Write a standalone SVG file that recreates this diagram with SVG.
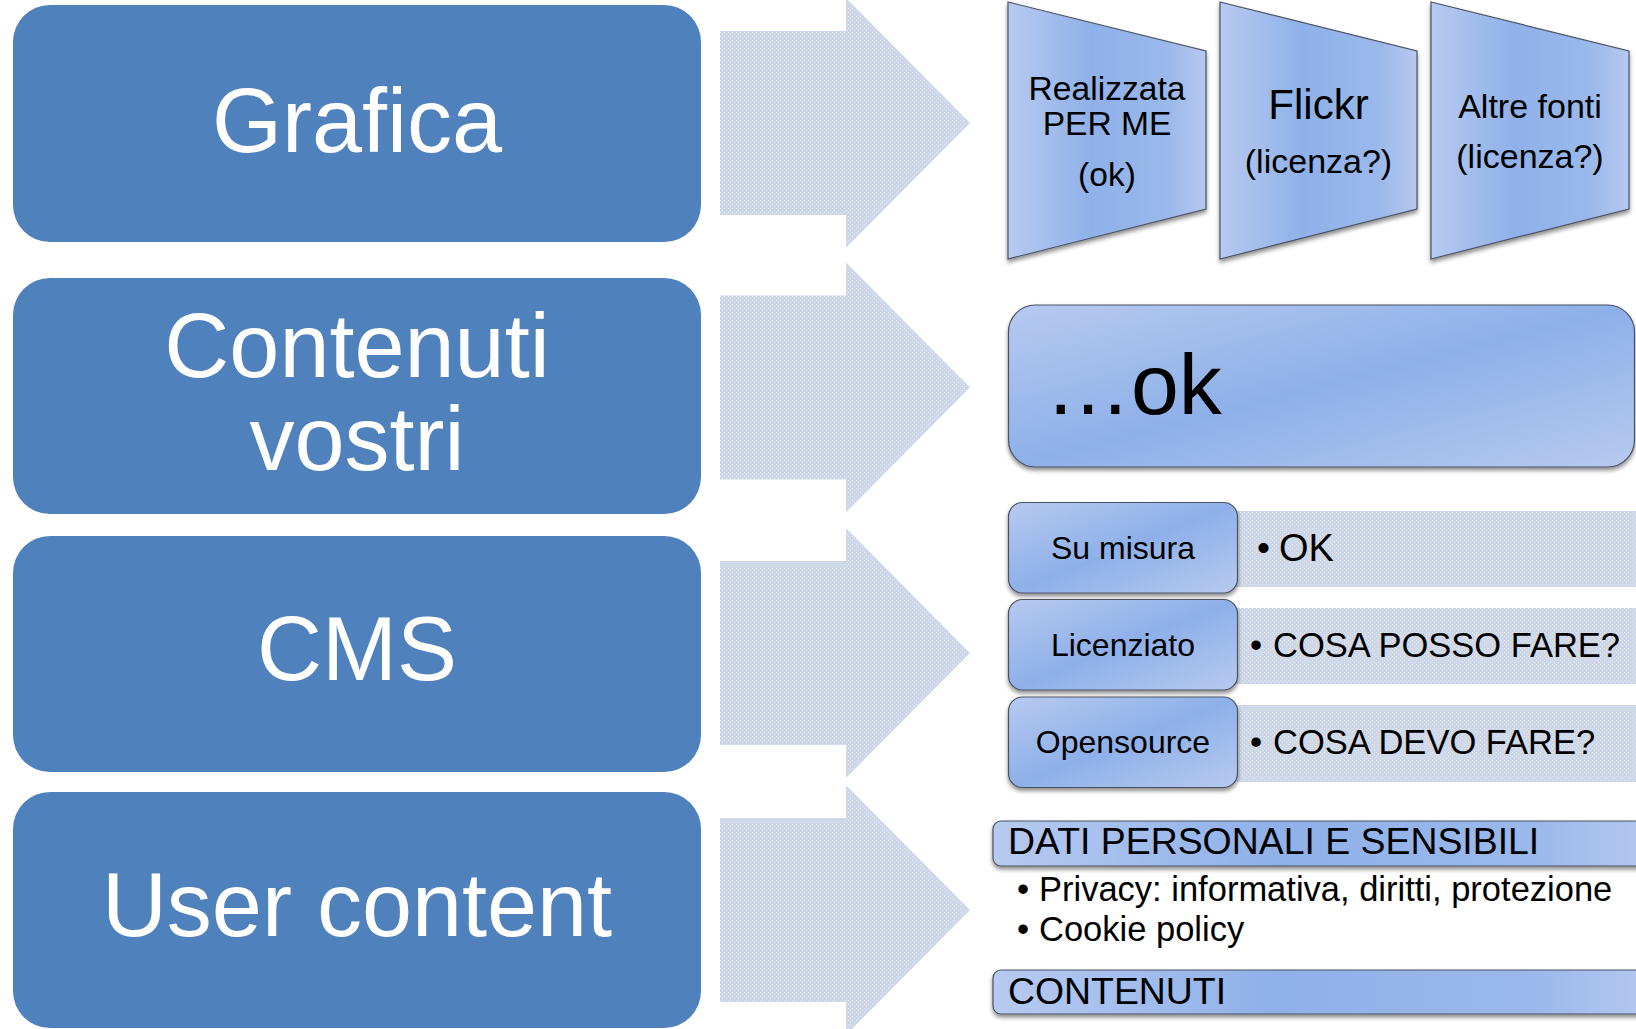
<svg xmlns="http://www.w3.org/2000/svg" width="1636" height="1029" viewBox="0 0 1636 1029">
  <defs>
    <style>
      .lbox { fill: #4f81bd; }
      .ltxt { fill: #ffffff; font-family: "Liberation Sans", Arial, sans-serif; font-size: 90px; text-anchor: middle; }
      .txt { fill: #000000; font-family: "Liberation Sans", Arial, sans-serif; }
      .mid { text-anchor: middle; }
      .blue { stroke: #4a5262; stroke-width: 1.2; }
      .tex { fill: url(#dots); }
    </style>
    <pattern id="dots" width="4" height="4" patternUnits="userSpaceOnUse">
      <rect width="4" height="4" fill="#ced7e7"/>
      <rect x="0" y="0" width="1" height="1" fill="#e3e8f1"/>
      <rect x="2" y="2" width="1" height="1" fill="#e3e8f1"/>
    </pattern>
    <linearGradient id="gradH" x1="0" y1="0" x2="1" y2="0">
      <stop offset="0" stop-color="#b7caf0"/>
      <stop offset="0.42" stop-color="#8fb1e9"/>
      <stop offset="0.8" stop-color="#9ab8eb"/>
      <stop offset="1" stop-color="#b6c9f0"/>
    </linearGradient>
    <linearGradient id="gradD" x1="0" y1="0" x2="1" y2="1">
      <stop offset="0" stop-color="#b7caf0"/>
      <stop offset="0.5" stop-color="#8eb0e9"/>
      <stop offset="1" stop-color="#b7caf0"/>
    </linearGradient>
    <filter id="shadow" x="-10%" y="-10%" width="120%" height="130%">
      <feDropShadow dx="0" dy="3" stdDeviation="2" flood-color="#000000" flood-opacity="0.45"/>
    </filter>
  </defs>

  <rect width="1636" height="1029" fill="#ffffff"/>

  <!-- connectors: block arrows -->
  <g id="connectors">
    <polygon class="tex" points="720,31 846,31 846,-2 970,123 846,248 846,215 720,215"/>
    <polygon class="tex" points="720,295.5 846,295.5 846,262.5 970,387.5 846,512.5 846,479.5 720,479.5"/>
    <polygon class="tex" points="720,561 846,561 846,528 970,653 846,778 846,745 720,745"/>
    <polygon class="tex" points="720,818 846,818 846,785 970,910 846,1035 846,1002 720,1002"/>
  </g>

  <!-- left column -->
  <g id="grafica">
    <rect class="lbox" x="13" y="5" width="688" height="237" rx="37" ry="37"/>
    <text class="ltxt" x="357" y="152">Grafica</text>
  </g>
  <g id="contenuti-vostri">
    <rect class="lbox" x="13" y="278" width="688" height="236" rx="37" ry="37"/>
    <text class="ltxt" x="357" y="377">Contenuti</text>
    <text class="ltxt" x="357" y="470">vostri</text>
  </g>
  <g id="cms">
    <rect class="lbox" x="13" y="536" width="688" height="236" rx="37" ry="37"/>
    <text class="ltxt" x="357" y="680">CMS</text>
  </g>
  <g id="user-content">
    <rect class="lbox" x="13" y="792" width="688" height="236" rx="37" ry="37"/>
    <text class="ltxt" x="357" y="936">User content</text>
  </g>

  <!-- row 1: trapezoids -->
  <g id="realizzata">
    <polygon points="1008,2 1206,51 1206,209 1008,259" fill="url(#gradH)" class="blue" filter="url(#shadow)"/>
    <text class="txt mid" x="1107" y="100" font-size="33.6">Realizzata</text>
    <text class="txt mid" x="1107" y="135" font-size="33.6">PER ME</text>
    <text class="txt mid" x="1107" y="186" font-size="33.6">(ok)</text>
  </g>
  <g id="flickr">
    <polygon points="1220,2 1417,51 1417,209 1220,259" fill="url(#gradH)" class="blue" filter="url(#shadow)"/>
    <text class="txt mid" x="1318.5" y="119" font-size="42">Flickr</text>
    <text class="txt mid" x="1318.5" y="173" font-size="34">(licenza?)</text>
  </g>
  <g id="altre-fonti">
    <polygon points="1431,2 1629,51 1629,209 1431,259" fill="url(#gradH)" class="blue" filter="url(#shadow)"/>
    <text class="txt mid" x="1530" y="118" font-size="34">Altre fonti</text>
    <text class="txt mid" x="1530" y="168" font-size="34">(licenza?)</text>
  </g>

  <!-- row 2 -->
  <g id="ok">
    <rect x="1008.5" y="305" width="626" height="162" rx="27" ry="27" fill="url(#gradD)" class="blue" filter="url(#shadow)"/>
    <text class="txt" x="1045" y="414" font-size="86">…ok</text>
  </g>

  <!-- row 3 -->
  <g id="su-misura">
    <rect class="tex" x="1236" y="511" width="410" height="76"/>
    <rect x="1008.5" y="502.5" width="229" height="90.5" rx="14" ry="14" fill="url(#gradD)" class="blue" filter="url(#shadow)"/>
    <text class="txt mid" x="1123" y="559" font-size="32">Su misura</text>
    <text class="txt" x="1257" y="560" font-size="37">•</text>
    <text class="txt" x="1279" y="561" font-size="38">OK</text>
  </g>
  <g id="licenziato">
    <rect class="tex" x="1236" y="608" width="410" height="76"/>
    <rect x="1008.5" y="599.5" width="229" height="90.5" rx="14" ry="14" fill="url(#gradD)" class="blue" filter="url(#shadow)"/>
    <text class="txt mid" x="1123" y="656" font-size="32">Licenziato</text>
    <text class="txt" x="1250" y="657" font-size="34.5">•</text>
    <text class="txt" x="1273" y="657" font-size="34.5">COSA POSSO FARE?</text>
  </g>
  <g id="opensource">
    <rect class="tex" x="1236" y="705" width="410" height="77"/>
    <rect x="1008.5" y="697" width="229" height="90.5" rx="14" ry="14" fill="url(#gradD)" class="blue" filter="url(#shadow)"/>
    <text class="txt mid" x="1123" y="753" font-size="32">Opensource</text>
    <text class="txt" x="1250" y="754" font-size="34.5">•</text>
    <text class="txt" x="1273" y="754" font-size="34.5">COSA DEVO FARE?</text>
  </g>

  <!-- row 4 -->
  <g id="dati-personali">
    <rect x="993" y="821" width="670" height="45" rx="8" ry="8" fill="url(#gradH)" class="blue" filter="url(#shadow)"/>
    <text class="txt" x="1008" y="854" font-size="37.4">DATI PERSONALI E SENSIBILI</text>
    <text class="txt" x="1017" y="901" font-size="34.5">•</text>
    <text class="txt" x="1039" y="901" font-size="34.5">Privacy: informativa, diritti, protezione</text>
    <text class="txt" x="1017" y="941" font-size="34.5">•</text>
    <text class="txt" x="1039" y="941" font-size="34.5">Cookie policy</text>
  </g>
  <g id="contenuti">
    <rect x="993" y="970" width="670" height="44" rx="8" ry="8" fill="url(#gradH)" class="blue" filter="url(#shadow)"/>
    <text class="txt" x="1008" y="1004" font-size="37.4">CONTENUTI</text>
  </g>
</svg>
